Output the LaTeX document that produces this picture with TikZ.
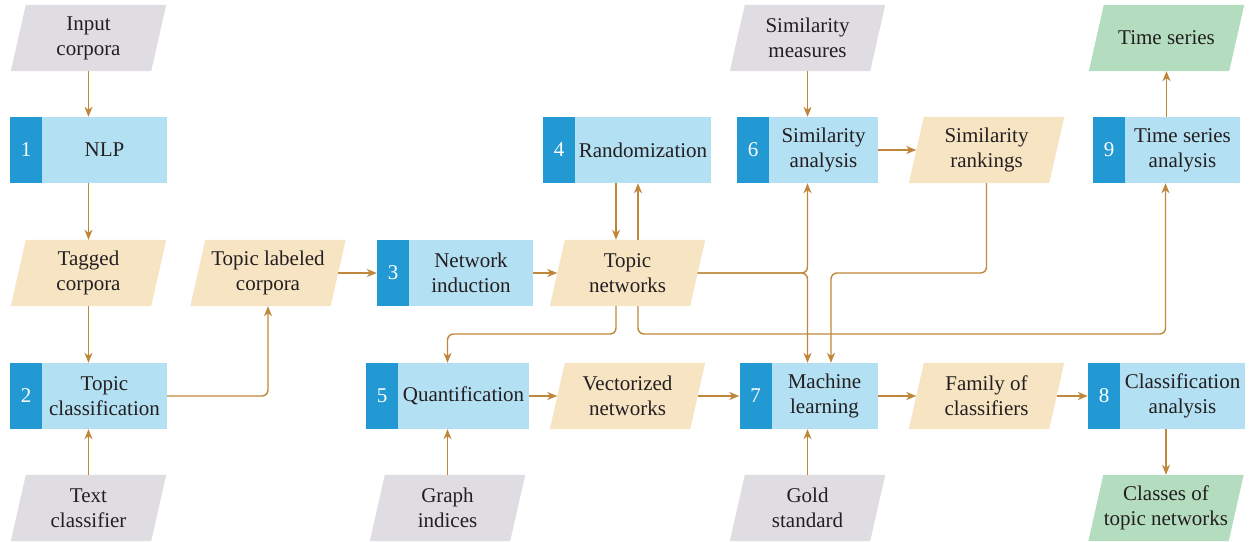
\documentclass[tikz,border=0pt]{standalone}
\usepackage{fontspec}
\setmainfont{Liberation Serif}
\usetikzlibrary{arrows.meta,backgrounds,calc}
\definecolor{lblue}{RGB}{179,224,242}
\definecolor{dblue}{RGB}{35,153,212}
\definecolor{beige}{RGB}{247,228,195}
\definecolor{grayp}{RGB}{223,221,225}
\definecolor{greenp}{RGB}{179,221,190}
\definecolor{arrc}{RGB}{190,135,60}
\definecolor{txtc}{RGB}{35,31,32}
\begin{document}
\begin{tikzpicture}[x=1pt,y=-1pt,
  every node/.style={font=\fontsize{21}{25}\selectfont, text=txtc, align=center, inner sep=1pt},
  para/.style={rectangle, minimum width=140, minimum height=66},
  light/.style={rectangle, fill=lblue, minimum height=66},
  num/.style={rectangle, fill=dblue, minimum height=66, minimum width=32, text=white},
  arr/.style={draw=arrc, line width=1.4pt, -{Stealth[length=10pt,width=8pt,inset=3pt]}},
  conn/.style={arr, rounded corners=6pt}]
\useasboundingbox (0,0) rectangle (1249,541);
% parallelograms (text nodes)
\node[para] (in)  at (88.5,38)  {Input\\corpora};
\node[para] (tag) at (88.5,273) {Tagged\\corpora};
\node[para] (txt) at (88.5,508) {Text\\classifier};
\node[para] (tlc) at (268,273)  {Topic labeled\\corpora};
\node[para] (tn)  at (627.5,273) {Topic\\networks};
\node[para] (sm)  at (807.5,38) {Similarity\\measures};
\node[para] (sr)  at (986.5,150) {Similarity\\rankings};
\node[para] (ts)  at (1166.5,38) {Time series};
\node[para] (vn)  at (627.5,396) {Vectorized\\networks};
\node[para] (fc)  at (986.5,396) {Family of\\classifiers};
\node[para] (gi)  at (447.5,508) {Graph\\indices};
\node[para] (gs)  at (807.5,508) {Gold\\standard};
\node[para] (cl)  at (1166,508) {Classes of\\topic networks};
% numbered boxes
\node[light, minimum width=125] (nlp) at (104.5,150) {NLP};
\node[num] (nlpn) at (26,150) {1};
\node[light, minimum width=125] (tc) at (104.5,396) {Topic\\classification};
\node[num] (tcn) at (26,396) {2};
\node[light, minimum width=124] (ni) at (471,273) {Network\\induction};
\node[num] (nin) at (393,273) {3};
\node[light, minimum width=136] (rnd) at (643,150) {Randomization};
\node[num] (rndn) at (559,150) {4};
\node[light, minimum width=131] (q) at (463.5,396) {Quantification};
\node[num] (qn) at (382,396) {5};
\node[light, minimum width=109] (sa) at (823.5,150) {Similarity\\analysis};
\node[num] (san) at (753,150) {6};
\node[light, minimum width=107] (ml) at (824.5,396) {Machine\\learning};
\node[num] (mln) at (755.5,396) {7};
\node[light, minimum width=125] (ca) at (1182.5,396) {Classification\\analysis};
\node[num] (can) at (1104,396) {8};
\node[light, minimum width=115] (tsa) at (1182.5,150) {Time series\\analysis};
\node[num] (tsan) at (1109,150) {9};
% parallelogram fills
\begin{scope}[on background layer]
\foreach \n/\c in {in/grayp,txt/grayp,sm/grayp,gi/grayp,gs/grayp,
  tag/beige,tlc/beige,tn/beige,sr/beige,vn/beige,fc/beige,ts/greenp,cl/greenp}
  \fill[\c] ([xshift=-7.5]\n.south west) -- ([xshift=-7.5]\n.south east)
     -- ([xshift=7.5]\n.north east) -- ([xshift=7.5]\n.north west) -- cycle;
\end{scope}
% helper coordinates
\coordinate (tnL)  at ([xshift=-11.5]tn.south);
\coordinate (tnR)  at ([xshift=10.5]tn.south);
\coordinate (tnLt) at ([xshift=-11.5]tn.north);
\coordinate (tnRt) at ([xshift=10.5]tn.north);
\coordinate (saB)  at ([xshift=-16]sa.south);
\coordinate (mlT)  at ([xshift=-17]ml.north);
\coordinate (mlT2) at ([xshift=6.5]ml.north);
\coordinate (qT)   at ([xshift=-16]q.north);
\coordinate (tsaB) at ([xshift=-17]tsa.south);
\coordinate (busB) at (0,334);
% connectors
\draw[arr] (in.south) -- (in.south |- nlp.north);
\draw[arr] (nlp.south -| tag.north) -- (tag.north);
\draw[arr] (tag.south) -- (tag.south |- tc.north);
\draw[arr] (txt.north) -- (txt.north |- tc.south);
\draw[conn] (tc.east) -| (tlc.south);
\draw[arr] (tlc.east) -- (nin.west);
\draw[arr] (ni.east) -- (tn.west);
\draw[arr] (tnLt |- rnd.south) -- (tnLt);
\draw[arr] (tnRt) -- (tnRt |- rnd.south);
\draw[conn] (tn.east) -| (saB);
\draw[conn] (tn.east) -| (mlT);
\draw[conn] (sr.south) |- (mlT2 |- tn.east) -- (mlT2);
\draw[conn] (tnL) |- (qT |- busB) -- (qT);
\draw[conn] (tnR) |- (tsaB |- busB) -- (tsaB);
\draw[arr] (sm.south) -- (sm.south |- sa.north);
\draw[arr] (sa.east) -- (sr.west);
\draw[arr] (tsa.north -| ts.south) -- (ts.south);
\draw[arr] (q.east) -- (vn.west);
\draw[arr] (gi.north) -- (gi.north |- q.south);
\draw[arr] (vn.east) -- (mln.west);
\draw[arr] (gs.north) -- (gs.north |- ml.south);
\draw[arr] (ml.east) -- (fc.west);
\draw[arr] (fc.east) -- (can.west);
\draw[arr] (ca.south -| cl.north) -- (cl.north);
\end{tikzpicture}
\end{document}
